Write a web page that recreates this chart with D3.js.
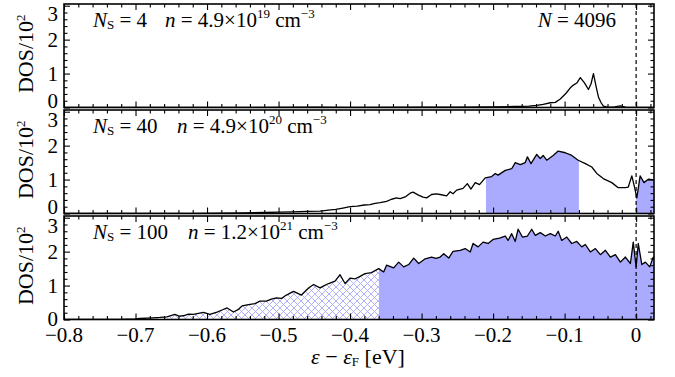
<!DOCTYPE html>
<html>
<head>
<meta charset="utf-8">
<script src="https://cdn.jsdelivr.net/npm/d3@7"></script>
</head>
<body style="margin:0">
<script>
// DOS data (energy in eV relative to E_F, DOS in units of 10^2)
var energyNs4 = [-0.80, -0.60, -0.45, -0.40, -0.30, -0.25, -0.20, -0.17, -0.15, -0.139, -0.13, -0.12, -0.113, -0.106, -0.098, -0.092, -0.0877, -0.083, -0.078, -0.072, -0.0667, -0.063, -0.0597, -0.056, -0.0527, -0.049, -0.0457, -0.04, -0.03, -0.022, -0.015, -0.01, 0.0, 0.01, 0.025];
var dosNs4 = [0, 0, 0.01, 0.005, 0.01, 0.01, 0.02, 0.03, 0.04, 0.06, 0.09, 0.14, 0.15, 0.25, 0.42, 0.58, 0.66, 0.72, 0.88, 0.72, 0.53, 0.7, 1.0, 0.62, 0.31, 0.14, 0.04, 0.01, 0.02, 0.05, 0.01, 0, 0, 0, 0];

var energyNs40 = [-0.80, -0.70, -0.62, -0.58, -0.55, -0.52, -0.50, -0.48, -0.46, -0.442, -0.43, -0.42, -0.41, -0.40, -0.39, -0.38, -0.372, -0.365, -0.358, -0.349, -0.342, -0.335, -0.33, -0.322, -0.316, -0.312, -0.305, -0.298, -0.293, -0.286, -0.279, -0.274, -0.265, -0.260, -0.256, -0.251, -0.242, -0.236, -0.231, -0.225, -0.219, -0.211, -0.202, -0.197, -0.193, -0.183, -0.174, -0.169, -0.162, -0.155, -0.152, -0.147, -0.139, -0.134, -0.130, -0.125, -0.116, -0.109, -0.099, -0.090, -0.081, -0.071, -0.062, -0.055, -0.046, -0.034, -0.025, -0.015, -0.011, -0.006, -0.0024, 0.001, 0.0056, 0.011, 0.017, 0.025];
var dosNs40 = [0, 0, 0, 0.01, 0.02, 0.03, 0.04, 0.05, 0.06, 0.07, 0.1, 0.12, 0.16, 0.2, 0.22, 0.25, 0.26, 0.3, 0.32, 0.36, 0.42, 0.46, 0.44, 0.5, 0.6, 0.63, 0.55, 0.48, 0.46, 0.56, 0.58, 0.56, 0.52, 0.64, 0.58, 0.69, 0.74, 0.88, 0.72, 0.91, 0.85, 1.05, 1.09, 1.18, 1.13, 1.27, 1.32, 1.5, 1.44, 1.5, 1.67, 1.47, 1.74, 1.62, 1.71, 1.57, 1.71, 1.84, 1.79, 1.71, 1.57, 1.47, 1.37, 1.18, 1.03, 0.91, 0.76, 0.76, 0.78, 1.11, 0.79, 0.46, 1.11, 0.91, 1.01, 0.99];

var energyNs100 = [-0.80, -0.75, -0.722, -0.70, -0.694, -0.676, -0.666, -0.656, -0.645, -0.639, -0.633, -0.626, -0.619, -0.612, -0.605, -0.596, -0.586, -0.579, -0.572, -0.563, -0.556, -0.551, -0.542, -0.533, -0.526, -0.517, -0.51, -0.503, -0.496, -0.489, -0.479, -0.468, -0.458, -0.451, -0.442, -0.436, -0.430, -0.421, -0.414, -0.407, -0.40, -0.393, -0.388, -0.379, -0.370, -0.360, -0.353, -0.349, -0.339, -0.332, -0.325, -0.318, -0.311, -0.304, -0.295, -0.286, -0.280, -0.274, -0.269, -0.262, -0.256, -0.246, -0.239, -0.232, -0.228, -0.221, -0.214, -0.207, -0.200, -0.191, -0.183, -0.179, -0.174, -0.169, -0.165, -0.159, -0.152, -0.146, -0.141, -0.134, -0.127, -0.120, -0.113, -0.109, -0.104, -0.097, -0.090, -0.083, -0.076, -0.071, -0.064, -0.057, -0.050, -0.043, -0.036, -0.029, -0.022, -0.015, -0.008, -0.004, 0.0, 0.003, 0.008, 0.013, 0.019, 0.024, 0.025];
var dosNs100 = [0, 0, 0, 0.02, 0.03, 0.05, 0.06, 0.08, 0.15, 0.1, 0.11, 0.16, 0.15, 0.18, 0.21, 0.15, 0.22, 0.28, 0.34, 0.22, 0.3, 0.4, 0.44, 0.47, 0.54, 0.54, 0.6, 0.64, 0.62, 0.72, 0.83, 0.72, 0.93, 1.03, 0.93, 1.0, 1.06, 1.13, 1.32, 1.06, 1.22, 1.2, 1.25, 1.35, 1.38, 1.5, 1.4, 1.6, 1.52, 1.69, 1.55, 1.62, 1.81, 1.65, 1.79, 1.84, 1.8, 1.84, 1.94, 1.81, 2.01, 2.04, 2.09, 1.99, 2.24, 2.14, 2.28, 2.24, 2.36, 2.4, 2.46, 2.33, 2.53, 2.3, 2.66, 2.43, 2.46, 2.66, 2.48, 2.56, 2.46, 2.53, 2.46, 2.6, 2.33, 2.43, 2.24, 2.3, 2.14, 2.21, 1.99, 2.09, 1.91, 2.04, 1.84, 1.91, 1.69, 1.84, 1.65, 2.28, 1.55, 2.24, 1.62, 1.69, 1.55, 1.84, 1.8];

var xTicks = [-0.8, -0.7, -0.6, -0.5, -0.4, -0.3, -0.2, -0.1, 0];
var yTicks = [0, 1, 2, 3];
var nsLabels = ["4", "40", "100"];
var densMantissa = ["4.9", "4.9", "1.2"];
var densExponent = ["19", "20", "21"];
// shaded energy windows: solid fill and cross-hatched
var solidRanges = [[], [[-0.21, -0.08], [0, 0.025]], [[-0.36, 0.025]]];
var hatchRanges = [[], [], [[-0.68, -0.36]]];

var width = 675, height = 377;
var left = 64, right = 654;
var panelTops = [4, 110, 216], panelH = 103.5;
var densX = [165, 177, 188];   // where the "n = ..." part starts
var fillColor = "#aaaaff";
var fs = 21;

var svg = d3.select("body").append("svg")
    .attr("width", width)
    .attr("height", height);

// all labels go through here so they get the Times-like font
function label(sel, size) {
  return sel.append("text")
    .attr("font-family", "Liberation Serif")
    .style("font-family", "'Liberation Serif'")
    .attr("font-size", size);
}

var defs = svg.append("defs");
var pat = defs.append("pattern")
    .attr("id", "hatch")
    .attr("patternUnits", "userSpaceOnUse")
    .attr("width", 7).attr("height", 7);
pat.append("rect").attr("width", 7).attr("height", 7).attr("fill", "#fff");
pat.append("path")
    .attr("d", "M0,0L7,7M-1,6L1,8M6,-1L8,1M0,7L7,0M-1,1L1,-1M6,8L8,6")
    .attr("stroke", "#a8a8f8").attr("stroke-width", 0.9);

var x = d3.scaleLinear().domain([-0.8, 0.025]).range([left, right]);

var panels = [
  {xs: energyNs4, ys: dosNs4},
  {xs: energyNs40, ys: dosNs40},
  {xs: energyNs100, ys: dosNs100}
];

// cut out the part of the curve between a and b (interpolating at the ends)
function segment(xs, ys, a, b) {
  var pts = [];
  function at(v) {
    for (var i = 0; i < xs.length - 1; i++) {
      if (xs[i] <= v && xs[i+1] >= v) {
        var t = (v - xs[i]) / (xs[i+1] - xs[i]);
        return ys[i] + t * (ys[i+1] - ys[i]);
      }
    }
    return ys[ys.length - 1];
  }
  pts.push([a, at(a)]);
  xs.forEach(function(v, i) { if (v > a && v < b) pts.push([v, ys[i]]); });
  pts.push([b, at(b)]);
  return pts;
}

panels.forEach(function(p, k) {
  var top = panelTops[k], bottom = top + panelH;
  var y = d3.scaleLinear().domain([0, 3.05]).range([bottom, top]);
  var g = svg.append("g");

  defs.append("clipPath").attr("id", "clip" + k)
    .append("rect").attr("x", left).attr("y", top)
    .attr("width", right - left).attr("height", panelH);

  var area = d3.area().x(d => x(d[0])).y0(y(0)).y1(d => y(d[1]));
  solidRanges[k].forEach(function(r) {
    g.append("path").attr("d", area(segment(p.xs, p.ys, r[0], r[1])))
      .attr("fill", fillColor).attr("clip-path", "url(#clip" + k + ")");
  });
  hatchRanges[k].forEach(function(r) {
    g.append("path").attr("d", area(segment(p.xs, p.ys, r[0], r[1])))
      .attr("fill", "url(#hatch)").attr("clip-path", "url(#clip" + k + ")");
  });

  // Fermi level
  g.append("line")
    .attr("x1", x(0)).attr("x2", x(0)).attr("y1", top).attr("y2", bottom)
    .attr("stroke", "#000").attr("stroke-width", 1.2)
    .attr("stroke-dasharray", "4,3");

  var line = d3.line().x((d, i) => x(p.xs[i])).y(d => y(d));
  g.append("path").datum(p.ys)
    .attr("d", line)
    .attr("fill", "none").attr("stroke", "#000").attr("stroke-width", 1.3)
    .attr("stroke-linejoin", "round")
    .attr("clip-path", "url(#clip" + k + ")");

  // ticks (all pointing inward)
  var minorX = d3.range(-80, 3, 2).map(d => d / 100).filter(d => xTicks.indexOf(d) < 0);
  var minorY = d3.range(0, 31, 2).map(d => d / 10).filter(d => d % 1 !== 0);
  var tickSpecs = [
    [d3.axisBottom(x).tickValues(xTicks).tickSize(-6), "translate(0," + bottom + ")"],
    [d3.axisBottom(x).tickValues(minorX).tickSize(-3.5), "translate(0," + bottom + ")"],
    [d3.axisTop(x).tickValues(xTicks).tickSize(-6), "translate(0," + top + ")"],
    [d3.axisTop(x).tickValues(minorX).tickSize(-3.5), "translate(0," + top + ")"],
    [d3.axisLeft(y).tickValues(yTicks).tickSize(-6), "translate(" + left + ",0)"],
    [d3.axisLeft(y).tickValues(minorY).tickSize(-3.5), "translate(" + left + ",0)"],
    [d3.axisRight(y).tickValues(yTicks).tickSize(-6), "translate(" + right + ",0)"],
    [d3.axisRight(y).tickValues(minorY).tickSize(-3.5), "translate(" + right + ",0)"]
  ];
  tickSpecs.forEach(function(s) {
    var a = g.append("g").attr("transform", s[1])
      .call(s[0].tickFormat(""));
    a.select(".domain").remove();
    a.selectAll("text").remove();
    a.selectAll("line").attr("stroke", "#000").attr("stroke-width", 1.1);
  });

  g.append("rect")
    .attr("x", left).attr("y", top).attr("width", right - left).attr("height", panelH)
    .attr("fill", "none").attr("stroke", "#000").attr("stroke-width", 1.6);

  // y tick labels, edge labels nudged inside like in the original
  yTicks.forEach(function(t) {
    var cy = y(t);
    if (t === 3) cy = top + 10;
    if (t === 0 && k < 2) cy = bottom - 6.5;
    if (t === 0 && k === 2) cy = bottom - 0.5;
    label(g, fs).attr("x", 58).attr("y", cy).attr("dy", "0.34em")
      .attr("text-anchor", "end").text(t);
  });

  // y label
  var ylab = label(g, fs + 1)
    .attr("transform", "translate(33," + (top + panelH / 2 - 2) + ")rotate(-90)")
    .attr("text-anchor", "middle");
  ylab.append("tspan").text("DOS/10");
  ylab.append("tspan").attr("font-size", 13).attr("dy", -8).text("2");

  // panel annotation
  var base = top + 23.3;
  var t1 = label(g, fs).attr("x", 93).attr("y", base);
  t1.append("tspan").attr("font-style", "italic").text("N");
  t1.append("tspan").attr("font-size", 13).attr("dy", 1.5).text("S");
  t1.append("tspan").attr("dy", -1.5).text(" = " + nsLabels[k]);
  var t2 = label(g, fs).attr("x", densX[k]).attr("y", base);
  t2.append("tspan").attr("font-style", "italic").text("n");
  t2.append("tspan").text(" = " + densMantissa[k] + "×10");
  t2.append("tspan").attr("font-size", 13).attr("dy", -9).text(densExponent[k]);
  t2.append("tspan").attr("dy", 9).text(" cm");
  t2.append("tspan").attr("font-size", 13).attr("dy", -9).text("−3");

  if (k === 0) {
    var t3 = label(g, fs).attr("x", 616).attr("y", base)
      .attr("text-anchor", "end");
    t3.append("tspan").attr("font-style", "italic").text("N");
    t3.append("tspan").text(" = 4096");
  }

  if (k === 2) {
    xTicks.forEach(function(d) {
      label(g, fs).attr("x", x(d)).attr("y", bottom + 22)
        .attr("text-anchor", "middle")
        .text(d === 0 ? "0" : d3.format(".1f")(d));
    });
  }
});

// x axis title
var xt = label(svg, fs + 1).attr("x", 358).attr("y", 364)
  .attr("text-anchor", "middle");
xt.append("tspan").attr("font-style", "italic").text("ε");
xt.append("tspan").text(" − ");
xt.append("tspan").attr("font-style", "italic").text("ε");
xt.append("tspan").attr("font-size", 13).attr("dy", 2).text("F");
xt.append("tspan").attr("dy", -2).text(" [eV]");
</script>
</body>
</html>
